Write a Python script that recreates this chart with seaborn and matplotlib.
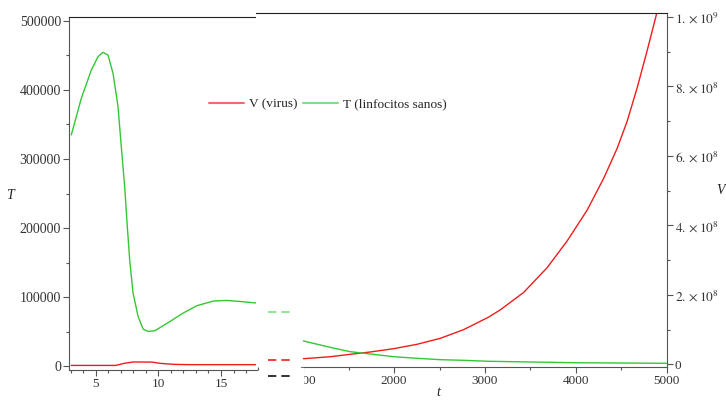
import seaborn as sns
import matplotlib.pyplot as plt
from matplotlib.lines import Line2D
from matplotlib.patches import Rectangle
from matplotlib.ticker import MultipleLocator

# left panel (short time window)
t_ini = [3.05, 3.85, 4.65, 5.18, 5.58, 5.98, 6.38, 6.78, 7.04, 7.31, 7.52, 7.71,
         7.98, 8.38, 8.78, 9.17, 9.73, 10.93, 11.99, 13.06, 14.39, 15.45, 16.52,
         17.85]
T_ini = [334800, 387800, 428700, 448000, 454300, 450400, 424000, 375700, 317900,
         260100, 202300, 154200, 106100, 72300, 54000, 50600, 51600, 65000, 77200,
         87700, 94500, 95400, 93900, 91600]
tv_ini = [3.05, 6.6, 7.3, 8.0, 9.5, 10.2, 11.3, 12.5, 17.85]
V_ini = [1400, 1400, 4500, 6400, 6200, 4300, 2900, 2500, 2500]

# right panel (long time window)
t_fin = [1000, 1294, 1515, 1736, 1993, 2251, 2508, 2765, 3040, 3169,
         3426, 3684, 3905, 4126, 4309, 4457, 4567, 4677, 4787, 4887, 4950]
V_fin = [1.64e7, 2.2e7, 2.9e7, 3.57e7, 4.52e7, 5.78e7, 7.5e7, 1.0e8, 1.36e8,
         1.57e8, 2.07e8, 2.78e8, 3.55e8, 4.44e8, 5.36e8, 6.22e8, 7.0e8,
         7.96e8, 9.03e8, 1.005e9, 1.08e9]
tt_fin = [1000, 1294, 1515, 1736, 1993, 2251, 2508, 2765, 3040, 4000, 5000]
T_fin = [33700, 24600, 18300, 15000, 11100, 8800, 6800, 5900, 4500, 2400, 1600]

v_ticks = [0, 2e8, 4e8, 6e8, 8e8, 1e9]
v_labels = ["0", r"$2.\times 10^{8}$", r"$4.\times 10^{8}$", r"$6.\times 10^{8}$",
            r"$8.\times 10^{8}$", r"$1.\times 10^{9}$"]

sns.set_style("ticks")
plt.rcParams['font.family'] = ['Liberation Serif', 'DejaVu Serif']
plt.rcParams['mathtext.fontset'] = 'stix'

red = '#f01c1c'
green = '#33c833'
W, H = 726, 400
fig = plt.figure(figsize=(7.26, 4), dpi=100)

def box(x0, y0, x1, y1):
    # pixel box (top-left origin) -> figure fraction
    return [x0 / W, 1 - y1 / H, (x1 - x0) / W, (y1 - y0) / H]

# ---- left panel
ax1 = fig.add_axes(box(69.3, 16.7, 256.7, 369.5))
sns.lineplot(x=t_ini, y=T_ini, ax=ax1, color=green, linewidth=1.0)
sns.lineplot(x=tv_ini, y=V_ini, ax=ax1, color=red, linewidth=1.0)
ax1.set_xlim(2.89, 17.85)
ax1.set_ylim(-4500, 505800)
ax1.set_xticks([5, 10, 15])
ax1.set_yticks([0, 100000, 200000, 300000, 400000, 500000])
ax1.xaxis.set_minor_locator(MultipleLocator(1))
ax1.yaxis.set_minor_locator(MultipleLocator(50000))
ax1.spines['right'].set_visible(False)
for s in ['left', 'bottom']:
    ax1.spines[s].set_color('#555555')
ax1.spines['top'].set_color('#222222')
ax1.tick_params(which='major', length=4, width=0.8, color='#555555',
                labelcolor='#333333', labelsize=10, pad=2)
ax1.tick_params(which='minor', length=2.5, width=0.8, color='#555555')
ax1.tick_params(axis='x', labelsize=9.5)
ax1.set_xlabel('')
ax1.set_ylabel('')

# ---- right panel
ax2 = fig.add_axes(box(256, 12.7, 666.5, 366.7))
ax2.set_facecolor('white')
sns.lineplot(x=t_fin, y=V_fin, ax=ax2, color=red, linewidth=1.0)

ax3 = ax2.twinx()
sns.lineplot(x=tt_fin, y=T_fin, ax=ax3, color=green, linewidth=1.0)
ax3.set_ylim(-3300, 506000)
ax3.set_yticks([])
ax3.set_ylabel('')
for s in ax3.spines.values():
    s.set_visible(False)

ax2.set_xlim(478, 5000)
ax2.set_ylim(-6.6e6, 1.012e9)
ax2.yaxis.tick_right()
ax2.yaxis.set_label_position('right')
ax2.set_yticks(v_ticks)
ax2.set_yticklabels(v_labels)
ax2.set_xticks([1000, 2000, 3000, 4000, 5000])
ax2.xaxis.set_minor_locator(MultipleLocator(500))
ax2.yaxis.set_minor_locator(MultipleLocator(1e8))
ax2.spines['left'].set_visible(False)
ax2.spines['bottom'].set_bounds(978, 5000)
for s in ['right', 'bottom']:
    ax2.spines[s].set_color('#555555')
ax2.spines['top'].set_color('#222222')
ax2.tick_params(which='major', length=4, width=0.8, color='#555555',
                labelcolor='#333333', labelsize=9.5, pad=2)
ax2.tick_params(which='minor', length=2.5, width=0.8, color='#555555')
ax2.tick_params(axis='y', which='both', left=False, right=True,
                labelleft=False, labelright=True)
ax2.set_xlabel('')
ax2.set_ylabel('')

# hide start of the first tick label, cut by the panel edge
fig.add_artist(Rectangle((280 / W, 1 - 390 / H), 22.5 / W, 22 / H,
                         transform=fig.transFigure, color='white', zorder=10))

# leftover legend handles between the panels
for yy, cc in [(311.7, '#7ee07e'), (360, red), (375.7, '#111111')]:
    fig.add_artist(Line2D([268 / W, 292.7 / W], [1 - yy / H, 1 - yy / H],
                          transform=fig.transFigure, color=cc, linewidth=1.2,
                          linestyle=(0, (5, 3)), zorder=11))

# axis titles
fig.text(10 / W, 1 - 195 / H, 'T', fontsize=10, style='italic',
         ha='center', va='center', color='#222222')
fig.text(716 / W, 1 - 191 / H, 'V', fontsize=10, style='italic',
         ha='left', va='center', color='#222222')
fig.text(438 / W, 1 - 399 / H, 't', fontsize=10, style='italic',
         ha='center', va='bottom', color='#222222')

# legend
handles = [Line2D([], [], color='#f46a6a', linewidth=1.5),
           Line2D([], [], color='#7ee07e', linewidth=1.5)]
fig.legend(handles, ['V (virus)', 'T (linfocitos sanos)'], ncol=2,
           frameon=False, loc='center', bbox_to_anchor=(328 / W, 1 - 104.3 / H),
           fontsize=9.6, handlelength=2.6, handletextpad=0.4,
           columnspacing=0.45, borderpad=0, borderaxespad=0)

fig.savefig('out.png', dpi=100)
